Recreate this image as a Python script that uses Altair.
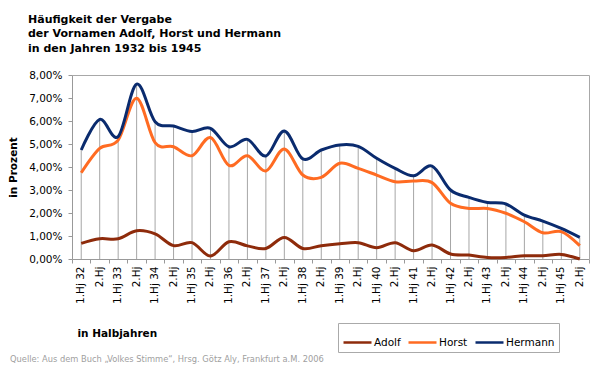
import altair as alt
import pandas as pd

periods = ["1932/1", "1932/2", "1933/1", "1933/2", "1934/1", "1934/2", "1935/1", "1935/2",
           "1936/1", "1936/2", "1937/1", "1937/2", "1938/1", "1938/2", "1939/1", "1939/2",
           "1940/1", "1940/2", "1941/1", "1941/2", "1942/1", "1942/2", "1943/1", "1943/2",
           "1944/1", "1944/2", "1945/1", "1945/2"]

adolf = [0.68, 0.88, 0.88, 1.23, 1.09, 0.58, 0.71, 0.13, 0.75, 0.57, 0.46, 0.94, 0.46, 0.58,
         0.66, 0.71, 0.49, 0.71, 0.36, 0.61, 0.22, 0.17, 0.07, 0.07, 0.14, 0.14, 0.20, 0.00]
horst = [3.75, 4.81, 5.17, 6.99, 5.06, 4.88, 4.49, 5.28, 4.07, 4.49, 3.83, 4.78, 3.65, 3.55,
         4.16, 3.94, 3.65, 3.36, 3.39, 3.32, 2.42, 2.20, 2.20, 1.99, 1.62, 1.14, 1.19, 0.58]
hermann = [4.74, 6.07, 5.32, 7.60, 5.97, 5.78, 5.54, 5.68, 4.88, 5.20, 4.48, 5.57, 4.35, 4.74,
           4.96, 4.90, 4.38, 3.94, 3.62, 4.04, 3.00, 2.68, 2.46, 2.39, 1.91, 1.65, 1.33, 0.94]

names = ["Adolf", "Horst", "Hermann"]
colors = ["#8E2B0B", "#FF6B22", "#0A2B6E"]

title_text = "H\u00e4ufigkeit der Vergabe\nder Vornamen Adolf, Horst und Hermann\nin den Jahren 1932 bis 1945"
source_text = "Quelle: Aus dem Buch \u201eVolkes Stimme\u201c, Hrsg. G\u00f6tz Aly, Frankfurt a.M. 2006"

rows = []
for name, vals in zip(names, [adolf, horst, hermann]):
    for p, v in zip(periods, vals):
        rows.append({"period": p, "name": name, "value": v})
long_df = pd.DataFrame(rows)
drop_df = pd.DataFrame({"period": periods, "top": hermann})
note_df = pd.DataFrame({"t": [source_text]})
title_df = pd.DataFrame({"t": [title_text]})

FONT = "DejaVu Sans"
FRAME = "#a8a8a8"
x_scale = alt.Scale(type="band", domain=periods, paddingInner=0, paddingOuter=0)
y_scale = alt.Scale(domain=[0, 8], nice=False)

# Bottom axis: domain line and between-category ticks
x_ticks = alt.X(
    "period:N", sort=periods, scale=x_scale, bandPosition=0.5,
    axis=alt.Axis(
        orient="bottom", title=None, labels=False, tickBand="extent", tickSize=4,
        tickColor="#999", domainColor="#999", grid=False,
    ),
)

# Bottom axis: category labels and axis title
x_labels = alt.X(
    "period:N", sort=periods, scale=x_scale, bandPosition=0.5,
    axis=alt.Axis(
        orient="bottom",
        title="in Halbjahren",
        titleFont=FONT, titleFontSize=10.5, titleFontWeight="bold", titleColor="#000",
        titleX=5, titleY=74, titleAlign="left", titleBaseline="middle", titleAngle=0,
        labelExpr="split(datum.value,'/')[1] == '1' ? '1.Hj ' + substring(datum.value,2,4) : '2.Hj'",
        labelAngle=270, labelFont=FONT, labelFontSize=10.5, labelColor="#000",
        labelPadding=7, labelAlign="right", labelBaseline="middle",
        ticks=False, domain=False, grid=False, labelOverlap=False,
    ),
)

# Top axis: only its domain line (frame of the plot area)
x_top = alt.X(
    "period:N", sort=periods, scale=x_scale, bandPosition=0.5,
    axis=alt.Axis(orient="top", title=None, labels=False, ticks=False, grid=False,
                  domainColor=FRAME),
)

y_left = alt.Axis(
    orient="left",
    title="in Prozent",
    titleFont=FONT, titleFontSize=10.5, titleFontWeight="bold", titleColor="#000",
    titleX=-59, titleY=92, titleAngle=270, titleAlign="center", titleBaseline="middle",
    values=[0, 1, 2, 3, 4, 5, 6, 7, 8],
    labelExpr="replace(format(datum.value, '.2f'), '.', ',') + '%'",
    labelFont=FONT, labelFontSize=10.5, labelColor="#000", labelPadding=6,
    labelOverlap=False, labelFlush=False,
    tickSize=4, tickColor="#999", domainColor="#999", grid=False,
)

y_right = alt.Axis(orient="right", title=None, labels=False, ticks=False, grid=False,
                   domainColor=FRAME)

frame = alt.Chart(drop_df).mark_rule(strokeOpacity=0).encode(
    x=x_top,
    y=alt.Y("top:Q", scale=y_scale, axis=y_right),
)

drops = alt.Chart(drop_df).mark_rule(color="#a6a6a6", strokeWidth=1).encode(
    x=x_ticks,
    y=alt.Y("top:Q", scale=y_scale, axis=y_left),
    y2=alt.datum(0),
)

lines = alt.Chart(long_df).mark_line(strokeWidth=3, interpolate="cardinal").encode(
    x=x_labels,
    y=alt.Y("value:Q", scale=y_scale, axis=None),
    color=alt.Color(
        "name:N",
        scale=alt.Scale(domain=names, range=colors),
        sort=names,
        legend=alt.Legend(
            title=None, orient="none", legendX=266, legendY=248, direction="horizontal",
            symbolType="stroke", symbolSize=784, symbolStrokeWidth=2.5,
            labelFont=FONT, labelFontSize=10.5, labelColor="#000", labelOffset=1,
            columnPadding=2, padding=4, strokeColor="#aaaaaa", fillColor="#ffffff",
        ),
    ),
    order=alt.Order("period:N"),
)

title = alt.Chart(title_df).mark_text(
    align="left", baseline="top", font=FONT, fontSize=11, fontWeight="bold",
    color="#000", lineBreak="\n", lineHeight=14.5,
).encode(x=alt.value(-44), y=alt.value(-61.5), text="t:N")

note = alt.Chart(note_df).mark_text(
    align="left", baseline="bottom", font=FONT, fontSize=8.3, color="#a0a0a0"
).encode(x=alt.value(-62), y=alt.value(288.5), text="t:N")

chart = alt.layer(frame, drops, lines, title, note).resolve_axis(
    x="independent", y="independent"
).properties(
    width=517,
    height=184,
    autosize=alt.AutoSizeParams(type="none"),
    padding={"left": 64, "top": 67, "right": 5, "bottom": 105},
).configure_view(strokeWidth=0)

chart.save("out.html", embed_options={"renderer": "svg", "actions": False})
